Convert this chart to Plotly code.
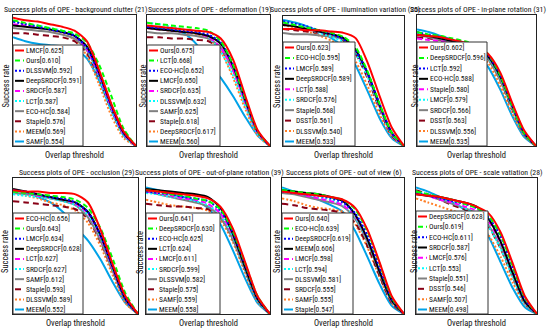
import plotly.graph_objects as go

# ---------------- data ----------------
thresholds = [0.0, 0.1, 0.2, 0.3, 0.4, 0.5, 0.6, 0.7, 0.8, 0.9, 1.0]

titles = [
    "Success plots of OPE - background clutter (21)",
    "Success plots of OPE - deformation (19)",
    "Success plots of OPE - illumination variation (25)",
    "Success plots of OPE - in-plane rotation (31)",
    "Success plots of OPE - occlusion (29)",
    "Success plots of OPE - out-of-plane rotation (39)",
    "Success plots of OPE - out of view (6)",
    "Success plots of OPE - scale vatiation (28)",
]

bc_names = ["LMCF", "Ours", "DLSSVM", "DeepSRDCF", "SRDCF", "LCT", "ECO-HC", "Staple", "MEEM", "SAMF"]
bc_scores = ["0.625", "0.610", "0.592", "0.591", "0.587", "0.587", "0.584", "0.576", "0.569", "0.554"]
bc_curves = [
    [.98, .96, .95, .93, .91, .88, .80, .58, .32, .11, 0],
    [.96, .94, .92, .90, .88, .86, .79, .62, .38, .13, 0],
    [.95, .93, .91, .89, .87, .84, .75, .55, .30, .10, 0],
    [.92, .91, .90, .89, .87, .84, .76, .56, .31, .10, 0],
    [.93, .92, .91, .89, .87, .84, .74, .54, .29, .09, 0],
    [.95, .93, .92, .90, .88, .85, .74, .52, .27, .08, 0],
    [.90, .89, .88, .87, .85, .82, .73, .54, .30, .10, 0],
    [.86, .86, .85, .84, .83, .80, .71, .52, .28, .09, 0],
    [.95, .93, .91, .89, .86, .81, .69, .47, .23, .06, 0],
    [.83, .80, .78, .77, .76, .74, .67, .50, .27, .08, 0],
]

def_names = ["Ours", "LCT", "ECO-HC", "LMCF", "SRDCF", "DLSSVM", "SAMF", "Staple", "DeepSRDCF", "MEEM"]
def_scores = ["0.675", "0.668", "0.652", "0.650", "0.635", "0.632", "0.625", "0.618", "0.617", "0.560"]
def_curves = [
    [.92, .91, .90, .89, .88, .87, .82, .66, .38, .12, 0],
    [.94, .93, .92, .91, .90, .88, .80, .62, .36, .11, 0],
    [.91, .90, .89, .88, .87, .85, .79, .62, .35, .11, 0],
    [.90, .89, .88, .87, .86, .84, .78, .61, .35, .11, 0],
    [.90, .89, .88, .87, .86, .83, .75, .58, .33, .10, 0],
    [.94, .93, .91, .89, .87, .83, .72, .54, .30, .09, 0],
    [.87, .86, .86, .85, .84, .82, .75, .58, .33, .10, 0],
    [.83, .83, .82, .82, .81, .80, .74, .58, .33, .10, 0],
    [.90, .89, .88, .87, .85, .82, .72, .52, .28, .08, 0],
    [.91, .90, .89, .86, .78, .64, .52, .38, .22, .08, 0],
]

iv_names = ["Ours", "ECO-HC", "LMCF", "DeepSRDCF", "LCT", "SRDCF", "Staple", "DSST", "DLSSVM", "MEEM"]
iv_scores = ["0.623", "0.595", "0.589", "0.589", "0.588", "0.576", "0.568", "0.561", "0.540", "0.533"]
iv_curves = [
    [.90, .90, .89, .89, .88, .87, .83, .64, .38, .14, 0],
    [.95, .93, .91, .89, .87, .84, .76, .57, .32, .10, 0],
    [.96, .94, .92, .89, .86, .82, .73, .56, .32, .10, 0],
    [.93, .92, .90, .88, .86, .83, .74, .56, .31, .10, 0],
    [.94, .92, .90, .88, .86, .83, .74, .55, .30, .09, 0],
    [.95, .93, .90, .87, .84, .80, .71, .53, .29, .09, 0],
    [.87, .86, .86, .85, .84, .82, .74, .55, .30, .09, 0],
    [.90, .89, .88, .87, .85, .81, .71, .52, .28, .08, 0],
    [.93, .91, .88, .85, .81, .76, .65, .46, .24, .07, 0],
    [.97, .95, .92, .88, .83, .76, .62, .42, .21, .06, 0],
]

ipr_names = ["Ours", "DeepSRDCF", "LCT", "ECO-HC", "Staple", "LMCF", "SRDCF", "DSST", "DLSSVM", "MEEM"]
ipr_scores = ["0.602", "0.596", "0.592", "0.588", "0.580", "0.579", "0.566", "0.563", "0.556", "0.535"]
ipr_curves = [
    [.85, .84, .83, .81, .79, .76, .70, .56, .33, .12, 0],
    [.87, .85, .84, .82, .80, .77, .70, .54, .31, .10, 0],
    [.87, .85, .83, .81, .79, .76, .69, .54, .31, .10, 0],
    [.85, .84, .82, .80, .78, .75, .68, .53, .31, .10, 0],
    [.82, .81, .80, .79, .77, .75, .68, .54, .32, .11, 0],
    [.86, .84, .82, .80, .78, .75, .67, .52, .30, .10, 0],
    [.85, .83, .81, .79, .77, .74, .66, .50, .29, .09, 0],
    [.83, .82, .81, .79, .77, .74, .66, .50, .28, .09, 0],
    [.86, .84, .82, .79, .76, .72, .63, .46, .25, .08, 0],
    [.89, .87, .84, .81, .77, .71, .60, .43, .23, .07, 0],
]

occ_names = ["ECO-HC", "Ours", "LMCF", "DeepSRDCF", "LCT", "SRDCF", "SAMF", "Staple", "DLSSVM", "MEEM"]
occ_scores = ["0.656", "0.643", "0.634", "0.628", "0.627", "0.627", "0.612", "0.593", "0.589", "0.552"]
occ_curves = [
    [.91, .90, .90, .89, .89, .88, .82, .62, .36, .13, 0],
    [.90, .89, .88, .87, .86, .84, .78, .63, .40, .15, 0],
    [.91, .90, .88, .86, .85, .82, .75, .58, .34, .11, 0],
    [.92, .90, .88, .86, .84, .82, .75, .58, .34, .11, 0],
    [.91, .89, .87, .86, .84, .81, .74, .57, .33, .11, 0],
    [.88, .87, .86, .85, .83, .80, .73, .57, .33, .11, 0],
    [.89, .88, .87, .85, .83, .80, .71, .54, .31, .10, 0],
    [.83, .82, .81, .80, .79, .77, .70, .53, .31, .10, 0],
    [.89, .87, .85, .82, .80, .76, .67, .50, .28, .08, 0],
    [.91, .89, .86, .82, .75, .64, .54, .40, .23, .08, 0],
]

opr_names = ["Ours", "DeepSRDCF", "ECO-HC", "LCT", "LMCF", "SRDCF", "DLSSVM", "Staple", "SAMF", "MEEM"]
opr_scores = ["0.641", "0.630", "0.625", "0.624", "0.611", "0.599", "0.582", "0.575", "0.559", "0.558"]
opr_curves = [
    [.91, .90, .89, .88, .87, .85, .79, .63, .38, .13, 0],
    [.91, .90, .88, .87, .85, .83, .77, .61, .37, .13, 0],
    [.90, .89, .88, .86, .85, .83, .76, .60, .36, .12, 0],
    [.92, .91, .90, .89, .88, .86, .78, .59, .34, .11, 0],
    [.90, .89, .87, .85, .84, .81, .74, .58, .34, .11, 0],
    [.89, .88, .86, .85, .83, .80, .73, .57, .33, .10, 0],
    [.90, .88, .86, .84, .82, .79, .71, .55, .32, .10, 0],
    [.81, .80, .79, .79, .78, .77, .71, .55, .32, .10, 0],
    [.84, .82, .80, .79, .78, .76, .69, .53, .30, .09, 0],
    [.93, .91, .88, .86, .83, .78, .66, .47, .26, .08, 0],
]

ov_names = ["Ours", "ECO-HC", "DeepSRDCF", "MEEM", "LMCF", "LCT", "DLSSVM", "SRDCF", "SAMF", "Staple"]
ov_scores = ["0.640", "0.639", "0.619", "0.606", "0.598", "0.594", "0.581", "0.555", "0.555", "0.547"]
ov_curves = [
    [.90, .89, .88, .87, .86, .84, .78, .62, .38, .13, 0],
    [.91, .90, .89, .88, .86, .84, .77, .61, .37, .12, 0],
    [.90, .89, .88, .87, .85, .82, .74, .58, .34, .11, 0],
    [.91, .90, .89, .88, .86, .83, .73, .55, .31, .10, 0],
    [.90, .89, .87, .85, .83, .80, .72, .55, .32, .10, 0],
    [.92, .90, .88, .86, .84, .80, .71, .54, .31, .10, 0],
    [.89, .88, .86, .84, .82, .79, .70, .53, .30, .09, 0],
    [.81, .80, .78, .77, .76, .74, .67, .50, .28, .08, 0],
    [.85, .83, .80, .78, .77, .75, .66, .49, .27, .08, 0],
    [.93, .90, .87, .84, .80, .75, .61, .42, .22, .06, 0],
]

sv_names = ["DeepSRDCF", "Ours", "ECO-HC", "SRDCF", "LMCF", "LCT", "Staple", "DSST", "SAMF", "MEEM"]
sv_scores = ["0.628", "0.619", "0.611", "0.587", "0.576", "0.553", "0.551", "0.546", "0.507", "0.498"]
sv_curves = [
    [.88, .87, .86, .84, .82, .79, .74, .60, .37, .13, 0],
    [.90, .88, .86, .84, .81, .78, .72, .58, .35, .12, 0],
    [.89, .87, .85, .83, .81, .78, .71, .57, .34, .11, 0],
    [.88, .87, .86, .84, .82, .79, .70, .53, .30, .09, 0],
    [.89, .87, .84, .82, .79, .76, .68, .52, .30, .09, 0],
    [.90, .88, .85, .82, .78, .73, .64, .48, .27, .08, 0],
    [.89, .87, .84, .81, .78, .74, .65, .49, .28, .08, 0],
    [.91, .88, .84, .80, .77, .73, .64, .48, .27, .08, 0],
    [.85, .82, .79, .76, .73, .69, .58, .42, .23, .07, 0],
    [.93, .90, .86, .82, .77, .71, .57, .38, .19, .05, 0],
]

panels = [
    (bc_names, bc_scores, bc_curves),
    (def_names, def_scores, def_curves),
    (iv_names, iv_scores, iv_curves),
    (ipr_names, ipr_scores, ipr_curves),
    (occ_names, occ_scores, occ_curves),
    (opr_names, opr_scores, opr_curves),
    (ov_names, ov_scores, ov_curves),
    (sv_names, sv_scores, sv_curves),
]

# rank styles (colour, dash)
rank_colors = ["#FF0000", "#00FF00", "#0000FF", "#000000", "#FF00FF",
               "#00FFFF", "#808080", "#880015", "#FF7F27", "#00A2E8"]
rank_dashes = ["solid", "5px,3px", "2px,2px", "solid", "5px,3px",
               "2px,2px", "solid", "6px,4px", "2px,2px", "solid"]

# ---------------- layout geometry (pixels) ----------------
W, H = 550, 332
boxes = [(13, 136, 15, 146), (147, 270, 15, 146), (283, 404, 16, 146), (417, 536, 15, 146),
         (13, 138, 178, 314), (146, 270, 178, 314), (282, 404, 178, 314), (416, 537, 178, 314)]
leg_w = [70, 73, 72, 70, 70, 74, 71, 72]
leg_top = [45, 45, 42, 42, 213, 213, 213, 211]
ylab_x = [5, 142, 277, 414, 5, 140, 277, 414]
title_y = [9, 9, 9, 9, 172, 172, 172, 172]
xlab_y = [155, 155, 155, 155, 323, 323, 323, 323]

FONT = "Roboto Condensed, Liberation Sans, Arial, sans-serif"

def px(x):
    return x / W

def py(y):
    return 1 - y / H

fig = go.Figure()
layout = dict(width=W, height=H, margin=dict(l=0, r=0, t=0, b=0),
              paper_bgcolor="white", plot_bgcolor="white", showlegend=False,
              font=dict(family=FONT, color="black"))
shapes = []
annotations = []

for i, (names, scores, curves) in enumerate(panels):
    xa = "x" if i == 0 else f"x{i+1}"
    ya = "y" if i == 0 else f"y{i+1}"
    l, r, t, b = boxes[i]
    axis_common = dict(showgrid=False, zeroline=False, showticklabels=False, ticks="",
                       showline=True, mirror=True, linecolor="#222222", linewidth=1,
                       range=[0, 1], fixedrange=True)
    layout["xaxis" if i == 0 else f"xaxis{i+1}"] = dict(axis_common, domain=[px(l), px(r)], anchor=ya)
    layout["yaxis" if i == 0 else f"yaxis{i+1}"] = dict(axis_common, domain=[py(b), py(t)], anchor=xa)

    for k in reversed(range(len(names))):
        fig.add_trace(go.Scatter(
            x=thresholds, y=curves[k], mode="lines", name=names[k],
            line=dict(color=rank_colors[k], width=2, dash=rank_dashes[k], shape="spline", smoothing=0.7),
            xaxis=xa, yaxis=ya, hoverinfo="skip", showlegend=False))

    # title & axis labels
    annotations.append(dict(text=titles[i], x=px((l + r) / 2 + 1), y=py(title_y[i]), xref="paper",
                            yref="paper", xanchor="center", yanchor="middle", showarrow=False,
                            font=dict(size=7.8, family=FONT, color="#111111")))
    annotations.append(dict(text="Overlap threshold", x=px((l + r) / 2), y=py(xlab_y[i]), xref="paper",
                            yref="paper", xanchor="center", yanchor="middle", showarrow=False,
                            font=dict(size=8.5, family=FONT, color="#111111")))
    annotations.append(dict(text="Success rate", x=px(ylab_x[i]), y=py((t + b) / 2 + 6), xref="paper",
                            yref="paper", xanchor="center", yanchor="middle", showarrow=False,
                            textangle=-90, font=dict(size=8.5, family=FONT, color="#111111")))

    # legend box
    lt = leg_top[i]
    lw = leg_w[i]
    shapes.append(dict(type="rect", xref="paper", yref="paper", x0=px(l), x1=px(l + lw),
                       y0=py(b), y1=py(lt), fillcolor="white", line=dict(color="#333333", width=1),
                       layer="above"))
    step = (b - lt - 10) / 9
    for k in range(len(names)):
        yy = lt + 5.5 + k * step
        shapes.append(dict(type="line", xref="paper", yref="paper", x0=px(l + 2), x1=px(l + 11),
                           y0=py(yy), y1=py(yy),
                           line=dict(color=rank_colors[k], width=2, dash=rank_dashes[k]), layer="above"))
        annotations.append(dict(text=f"{names[k]}[{scores[k]}]", x=px(l + 11), y=py(yy), xref="paper",
                                yref="paper", xanchor="left", yanchor="middle", showarrow=False,
                                font=dict(size=7.5, family=FONT, color="#111111")))

layout["shapes"] = shapes
layout["annotations"] = annotations
fig.update_layout(**layout)
fig.write_html("out.html", config={"displayModeBar": False},
               post_script="document.body.style.margin='0';")
